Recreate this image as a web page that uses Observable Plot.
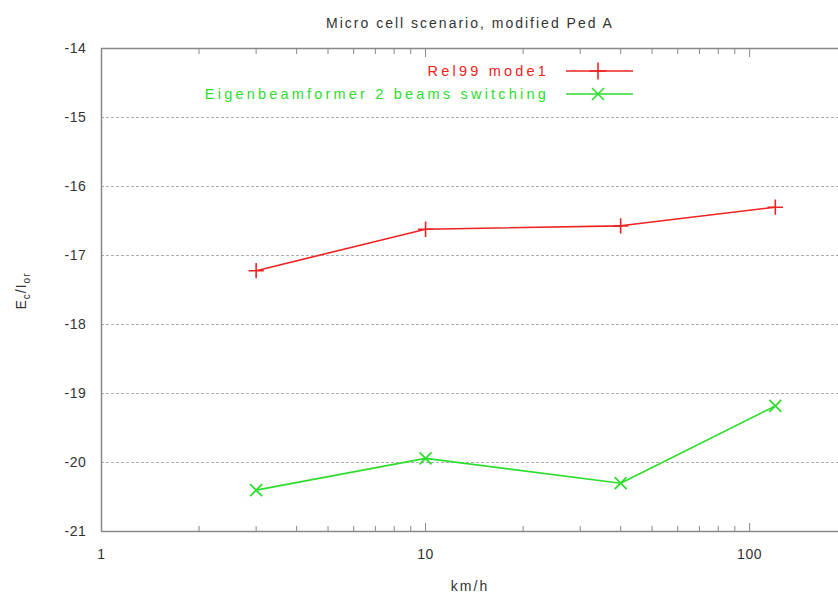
<!DOCTYPE html>
<html>
<head>
<meta charset="utf-8">
<script src="https://cdn.jsdelivr.net/npm/d3@7"></script>
<script src="https://cdn.jsdelivr.net/npm/@observablehq/plot@0.6"></script>
<style>
  body { margin: 0; background: #fff; }
  svg { font-family: "Liberation Sans", Arial, sans-serif; }
  g[aria-label="text"] text { letter-spacing: 2px; }
  g[aria-label="y-axis tick label"] text, g[aria-label="x-axis tick label"] text { letter-spacing: 0.6px; }
</style>
</head>
<body>
<div id="chart"></div>
<script>
const titleText = "Micro cell scenario, modified Ped A";
const xLabel = "km/h";
const speeds = [3, 10, 40, 120];
const seriesNames = ["Rel99 mode1", "Eigenbeamformer 2 beams switching"];
const rel99 = [-17.22, -16.62, -16.57, -16.3];
const eigen = [-20.4, -19.94, -20.3, -19.18];
const yTicks = [-14, -15, -16, -17, -18, -19, -20, -21];
const xTicks = [1, 10, 100];
const xMinor = [2,3,4,5,6,7,8,9,20,30,40,50,60,70,80,90];
const colors = ["#ee2222", "#2ddd2d"];
const symbols = ["plus", "times"];

const rows = [];
speeds.forEach((s, i) => rows.push({speed: s, v: rel99[i], series: seriesNames[0]}));
speeds.forEach((s, i) => rows.push({speed: s, v: eigen[i], series: seriesNames[1]}));
const red = rows.filter(d => d.series === seriesNames[0]);
const green = rows.filter(d => d.series === seriesNames[1]);

const axisColor = "#888";
const textColor = "#333";

const chart = Plot.plot({
  width: 838,
  height: 606,
  marginLeft: 101,
  marginRight: 0,
  marginTop: 48,
  marginBottom: 75,
  style: {fontSize: "14px", color: textColor, background: "#fff"},
  x: {type: "log", domain: [1, 188]},
  y: {domain: [-21, -14]},
  marks: [
    Plot.gridY(yTicks.slice(1, -1), {stroke: "#999", strokeOpacity: 0.8, strokeDasharray: "3,2"}),
    Plot.axisY({ticks: yTicks, tickSize: 0, tickPadding: 15, tickFormat: d => String(d), label: null, fill: textColor, fontSize: 14}),
    Plot.axisX({ticks: xTicks, tickSize: 0, tickPadding: 18, tickFormat: d => String(d), label: null, fill: textColor, fontSize: 14}),
    Plot.axisX({ticks: xTicks, tickSize: -8, tickFormat: () => "", label: null, stroke: axisColor}),
    Plot.axisX({ticks: xMinor, tickSize: -5, tickFormat: () => "", label: null, stroke: axisColor}),
    Plot.axisX({anchor: "top", ticks: xTicks, tickSize: -8, tickFormat: () => "", label: null, stroke: axisColor}),
    Plot.axisX({anchor: "top", ticks: xMinor, tickSize: -5, tickFormat: () => "", label: null, stroke: axisColor}),
    Plot.ruleY([-14, -21], {stroke: axisColor, strokeWidth: 1.5}),
    Plot.ruleX([1], {stroke: axisColor, strokeWidth: 1.5}),
    Plot.line(red, {x: "speed", y: "v", stroke: colors[0], strokeWidth: 1.6}),
    Plot.dot(red, {x: "speed", y: "v", symbol: () => symbols[0], stroke: colors[0], r: 5, strokeWidth: 1.6}),
    Plot.line(green, {x: "speed", y: "v", stroke: colors[1], strokeWidth: 1.6}),
    Plot.dot(green, {x: "speed", y: "v", symbol: () => symbols[1], stroke: colors[1], r: 5.5, strokeWidth: 1.8}),
    Plot.text([titleText], {frameAnchor: "top", dy: -30, fill: textColor, fontSize: 14}),
    Plot.text([xLabel], {frameAnchor: "bottom", dy: 59, fill: textColor, fontSize: 14})
  ]
});

const svg = d3.select(chart);
// y-axis label with subscripts
const yl = svg.append("text")
  .attr("transform", "translate(26,291) rotate(-90)")
  .attr("text-anchor", "middle")
  .attr("fill", textColor)
  .attr("font-size", 14)
  .attr("letter-spacing", "1px");
yl.append("tspan").text("E");
yl.append("tspan").attr("font-size", 10).attr("dy", 4).text("c");
yl.append("tspan").attr("dy", -4).text("/I");
yl.append("tspan").attr("font-size", 10).attr("dy", 4).text("or");

// legend
const legend = svg.append("g");
seriesNames.forEach((name, i) => {
  const y = 71 + i * 23;
  legend.append("text")
    .attr("x", 549).attr("y", y).attr("dy", "0.35em")
    .attr("text-anchor", "end").attr("fill", colors[i]).attr("font-size", 14.5)
    .attr("letter-spacing", "3.2px")
    .text(name);
  legend.append("line")
    .attr("x1", 566).attr("x2", 633).attr("y1", y).attr("y2", y)
    .attr("stroke", colors[i]).attr("stroke-width", 1.6);
  const sym = d3.symbol(i === 0 ? d3.symbolPlus : d3.symbolTimes, 5.5 * 5.5 * Math.PI);
  legend.append("path")
    .attr("transform", `translate(598,${y})`)
    .attr("d", sym())
    .attr("fill", "none").attr("stroke", colors[i]).attr("stroke-width", 1.6);
});

document.getElementById("chart").appendChild(chart);
</script>
</body>
</html>
